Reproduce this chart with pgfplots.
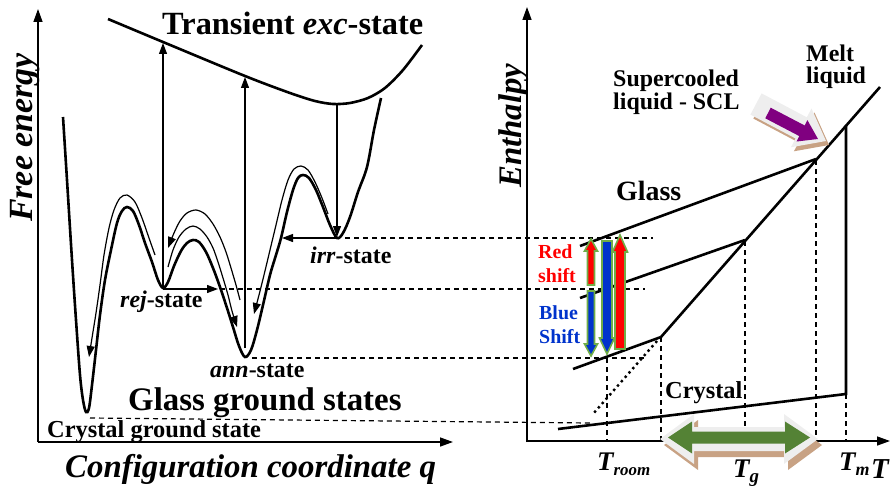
\documentclass[border=0pt]{standalone}
\usepackage{pgfplots}
\pgfplotsset{compat=1.18}
\usepackage{fontspec}
\setmainfont{Liberation Serif}
\usetikzlibrary{arrows.meta}
\definecolor{tanc}{RGB}{200,162,132}
\definecolor{lgray}{RGB}{238,238,238}
\definecolor{garrow}{RGB}{84,130,53}
\definecolor{gout}{RGB}{112,173,71}
\definecolor{pur}{RGB}{128,0,128}
\definecolor{blu}{RGB}{0,51,204}
\newcommand{\fs}[1]{\fontsize{#1}{#1}\selectfont}
\tikzset{
 thk/.style={line width=2.6bp, black},
 thn/.style={line width=1.2bp, black},
 dsh/.style={line width=1.2bp, black, dash pattern=on 5bp off 4bp},
 tip/.style={-{Triangle[length=11bp,width=8bp]}},
 axarr/.style={line width=1.4bp, black, -{Triangle[length=13bp,width=9bp]}},
 lbl/.style={inner sep=0pt, anchor=base west},
}
\begin{document}
\begin{tikzpicture}
\begin{axis}[scale only axis, width=895bp, height=486bp, xmin=0, xmax=895, ymin=0, ymax=486,
  y dir=reverse, hide axis, clip=false]

% ---------- left panel axes
\addplot[axarr] coordinates {(38,442) (38,9)};
\addplot[axarr] coordinates {(38,442) (453,442)};

% excited-state curve
\addplot[thk, smooth] coordinates {(108,19) (163,42) (245,76) (290,93) (315,101) (333,104) (350,103) (368,98) (385,88) (403,70) (422,45)};

% ground-state landscape
\addplot[thk, smooth, tension=0.55] coordinates {
(63,117) (67,180) (72,260) (76,320) (80,375) (83,400) (86,412) (89,408) (92,385) (96,350) (100,315) (105,280) (111,250) (117,223) (122,211) (127,207) (133,211) (139,225) (145,243) (152,262) (158,280) (163,288)
(168,282) (174,266) (181,251) (187,243) (193,240) (199,242) (206,252) (213,268) (220,287) (227,308) (233,327) (239,346) (245,357)
(251,350) (257,330) (263,305) (270,275) (276,255) (281,238) (287,212) (293,190) (298,178) (303,175) (309,178) (316,190) (323,207) (330,225) (337,238)
(343,233) (350,217) (358,192) (367,167) (374,130) (381,98)};

% thin relaxation paths
\addplot[thn, smooth, tip] coordinates {(155,255) (149,238) (142,218) (135,202) (127,195) (120,198) (114,210) (109,228) (104,255) (100,285) (96,313) (92,338) (89,357)};
\addplot[thn, smooth, tip] coordinates {(168,267) (173,250) (179,237) (186,229) (193,226) (200,229) (207,237) (213,248) (218,262) (223,278) (228,295) (232,311) (237,327)};
\addplot[thn, smooth, tip] coordinates {(240,300) (236,285) (231,268) (226,252) (220,237) (213,224) (205,214) (196,210) (187,213) (180,221) (174,233) (168,248)};
\addplot[thn, smooth, tip] coordinates {(328,214) (322,198) (315,182) (308,170) (301,166) (294,169) (288,180) (282,200) (276,225) (270,250) (264,275) (259,295) (254,314)};

% vertical / horizontal transitions
\addplot[thn, tip] coordinates {(163,288) (163,43)};
\addplot[thn, tip] coordinates {(245,348) (245,77)};
\addplot[thn, tip] coordinates {(337,104) (337,237)};
\addplot[thn, tip] coordinates {(337,238) (282,238)};
\addplot[thn, tip] coordinates {(163,289) (218,289)};

% dashed connecting lines
\addplot[dsh] coordinates {(345,238) (653,238)};
\addplot[dsh] coordinates {(220,289) (645,289)};
\addplot[dsh] coordinates {(252,358) (645,358)};
\addplot[dsh] coordinates {(90,418) (590,423)};

% ---------- right panel axes
\addplot[axarr] coordinates {(527,442) (527,7)};
\addplot[axarr] coordinates {(527,441) (890,441)};

% dashed verticals
\addplot[dsh] coordinates {(607,358) (607,441)};
\addplot[dsh] coordinates {(661,337) (661,441)};
\addplot[dsh] coordinates {(745,241) (745,441)};
\addplot[dsh] coordinates {(816,160) (816,441)};
\addplot[dsh] coordinates {(846,394) (846,441)};

% enthalpy lines
\addplot[thk] coordinates {(661,337) (880,87)};
\addplot[thk] coordinates {(580,246) (816,159)};
\addplot[thk] coordinates {(580,298) (745,240)};
\addplot[thk] coordinates {(573,369) (661,337)};
\addplot[thk] coordinates {(558,429) (846,394) (846,125)};
\addplot[line width=2.4bp, dash pattern=on 2.4bp off 3.4bp] coordinates {(657,341) (593,414)};

% red / blue shift arrows
\addplot[fill=red, draw=gout, line width=1.6bp] coordinates {(591,239) (597.5,251) (594.5,251) (594.5,285) (587.5,285) (587.5,251) (584.5,251)} -- cycle;
\addplot[fill=blu, draw=gout, line width=1.6bp] coordinates {(587.5,291) (594.5,291) (594.5,344) (597.5,344) (591,356) (584.5,344) (587.5,344)} -- cycle;
\addplot[fill=blu, draw=gout, line width=1.6bp] coordinates {(602,241) (612,241) (612,338) (614.5,338) (607,354) (599.5,338) (602,338)} -- cycle;
\addplot[fill=red, draw=gout, line width=1.6bp] coordinates {(620,235) (627.5,252) (625,252) (625,349) (615,349) (615,252) (612.5,252)} -- cycle;

% purple SCL arrow
\addplot[fill=tanc, draw=none] coordinates {(764.6,97.4) (809.8,121.3) (814.5,112.5) (829,145) (793.9,151.3) (798.6,142.5) (753.4,118.6)} -- cycle;
\addplot[fill=lgray, draw=none] coordinates {(761.6,93.4) (806.8,117.3) (811.5,108.5) (826,141) (790.9,147.3) (795.6,138.5) (750.4,114.6)} -- cycle;
\addplot[fill=pur, draw=none] coordinates {(770.7,107.7) (804.7,125.5) (807.4,120.1) (818,139) (796.6,141.5) (799.3,136.1) (765.3,118.3)} -- cycle;

% green Tg double arrow
\addplot[fill=tanc, draw=none] coordinates {(664,445) (698,420) (698,433) (788,433) (788,420) (822,445) (788,470) (788,457) (698,457) (698,470)} -- cycle;
\addplot[fill=lgray, draw=none] coordinates {(660,439) (694,414) (694,427) (784,427) (784,414) (818,439) (784,464) (784,451) (694,451) (694,464)} -- cycle;
\addplot[fill=garrow, draw=none] coordinates {(668,437.5) (692,421.5) (692,431.5) (785,431.5) (785,421.5) (810,437.5) (785,453.5) (785,443.5) (692,443.5) (692,453.5)} -- cycle;

% ---------- texts left
\node[lbl, font=\bfseries\fs{32.5}] at (axis cs:162,35) {Transient \textit{exc}-state};
\node[lbl, font=\bfseries\fs{24}] at (axis cs:310,263) {\textit{irr}-state};
\node[lbl, font=\bfseries\fs{24}] at (axis cs:120,307) {\textit{rej}-state};
\node[lbl, font=\bfseries\fs{24}] at (axis cs:210,377) {\textit{ann}-state};
\node[lbl, font=\bfseries\fs{33}] at (axis cs:128,410) {Glass ground states};
\node[lbl, font=\bfseries\fs{24.5}] at (axis cs:47,437) {Crystal ground state};
\node[lbl, font=\bfseries\itshape\fs{33}] at (axis cs:65,477) {Configuration coordinate \textit{q}};
\node[lbl, font=\bfseries\itshape\fs{34}, rotate=90] at (axis cs:32,222) {Free energy};

% ---------- texts right
\node[lbl, font=\bfseries\itshape\fs{33}, rotate=90] at (axis cs:521,188) {Enthalpy};
\node[lbl, font=\bfseries\fs{24}] at (axis cs:613,87) {Supercooled};
\node[lbl, font=\bfseries\fs{24}] at (axis cs:613,110) {liquid - SCL};
\node[lbl, font=\bfseries\fs{24}] at (axis cs:806,62) {Melt};
\node[lbl, font=\bfseries\fs{24}] at (axis cs:806,84) {liquid};
\node[lbl, font=\bfseries\fs{28}] at (axis cs:616,200) {Glass};
\node[lbl, font=\bfseries\fs{24.5}] at (axis cs:665,398) {Crystal};
\node[lbl, font=\bfseries\fs{20}, text=red] at (axis cs:538,258) {Red};
\node[lbl, font=\bfseries\fs{20}, text=red] at (axis cs:538,282) {shift};
\node[lbl, font=\bfseries\fs{20}, text=blu] at (axis cs:539,319) {Blue};
\node[lbl, font=\bfseries\fs{20}, text=blu] at (axis cs:539,343) {Shift};
\node[lbl, font=\bfseries\itshape] at (axis cs:597,470) {\fs{27}T\fs{17}\raisebox{-5bp}{room}};
\node[lbl, font=\bfseries\itshape] at (axis cs:733,477) {\fs{27}T\fs{19}\raisebox{-5bp}{g}};
\node[lbl, font=\bfseries\itshape] at (axis cs:839,470) {\fs{27}T\fs{18}\raisebox{-5bp}{m}};
\node[lbl, font=\bfseries\itshape\fs{29}] at (axis cs:871,478) {T};

\coordinate (pbl) at (axis cs:0,486);
\coordinate (ptr) at (axis cs:895,0);
\end{axis}
\pgfresetboundingbox
\useasboundingbox (pbl) rectangle (ptr);
\end{tikzpicture}
\end{document}
